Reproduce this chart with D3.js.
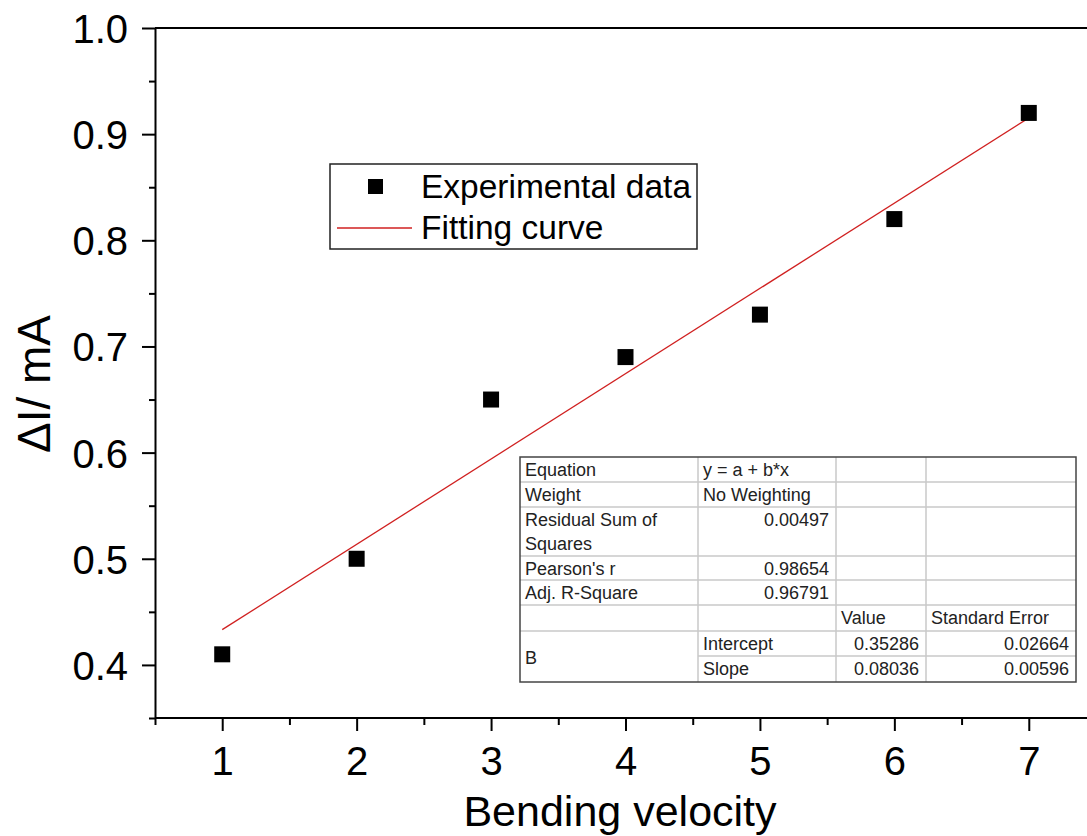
<!DOCTYPE html>
<html>
<head>
<meta charset="utf-8">
<script src="https://cdn.jsdelivr.net/npm/d3@7"></script>
<style>
html,body{margin:0;padding:0;background:#fff;}
svg{display:block;font-family:"Liberation Sans",Arial,sans-serif;}
</style>
</head>
<body>
<svg id="chart" width="1087" height="836"></svg>
<script>
// ---- data ----
const velocity = [1, 2, 3, 4, 5, 6, 7];
const deltaI = [0.41, 0.50, 0.65, 0.69, 0.73, 0.82, 0.92];
const fitIntercept = 0.35286;
const fitSlope = 0.08036;
const xTicks = [1, 2, 3, 4, 5, 6, 7];
const yTicks = [0.4, 0.5, 0.6, 0.7, 0.8, 0.9, 1.0];
const legendLabels = ["Experimental data", "Fitting curve"];
const tableRows = [
  ["Equation", "y = a + b*x", "", ""],
  ["Weight", "No Weighting", "", ""],
  ["Residual Sum of|Squares", "0.00497", "", ""],
  ["Pearson's r", "0.98654", "", ""],
  ["Adj. R-Square", "0.96791", "", ""],
  ["", "", "Value", "Standard Error"],
  ["B", "Intercept", "0.35286", "0.02664"],
  ["", "Slope", "0.08036", "0.00596"]
];

const svg = d3.select("#chart");
const L = 155, R = 1096, T = 28, B = 718;
const x = d3.scaleLinear().domain([0.5, 7.5]).range([L, R]);
const y = d3.scaleLinear().domain([0.35, 1.0]).range([B, T]);

// frame top line
svg.append("line").attr("x1", L).attr("x2", 1090).attr("y1", T).attr("y2", T)
  .attr("stroke", "#000").attr("stroke-width", 2);

// x axis
const xMinor = d3.range(0.5, 7.51, 0.5).filter(v => Math.abs(v - Math.round(v)) > 0.01);
svg.append("g").attr("transform", `translate(0,${B})`)
  .call(d3.axisBottom(x).tickValues(xMinor).tickSize(7).tickFormat(""))
  .call(g => g.select(".domain").remove())
  .call(g => g.selectAll("line").attr("stroke-width", 2));
const gx = svg.append("g").attr("transform", `translate(0,${B})`)
  .call(d3.axisBottom(x).tickValues(xTicks).tickSize(13).tickSizeOuter(0).tickPadding(16).tickFormat(d3.format("d")));
gx.select(".domain").attr("stroke-width", 2).attr("d", `M${L},0H1090`);
gx.selectAll("line").attr("stroke-width", 2);
gx.selectAll("text").attr("font-size", 40).attr("fill", "#000").attr("font-family", "Liberation Sans, Arial, sans-serif");

// y axis
const yMinor = d3.range(0.35, 1.0, 0.1).map(v => +v.toFixed(2));
svg.append("g").attr("transform", `translate(${L},0)`)
  .call(d3.axisLeft(y).tickValues(yMinor).tickSize(6).tickFormat(""))
  .call(g => g.select(".domain").remove())
  .call(g => g.selectAll("line").attr("stroke-width", 2));
const gy = svg.append("g").attr("transform", `translate(${L},0)`)
  .call(d3.axisLeft(y).tickValues(yTicks).tickSize(13).tickSizeOuter(0).tickPadding(14).tickFormat(d3.format(".1f")));
gy.select(".domain").attr("stroke-width", 2);
gy.selectAll("line").attr("stroke-width", 2);
gy.selectAll("text").attr("font-size", 40).attr("fill", "#000").attr("dy", "0.36em").attr("font-family", "Liberation Sans, Arial, sans-serif");

// axis titles
svg.append("text").attr("x", 620).attr("y", 826).attr("text-anchor", "middle")
  .attr("font-size", 43).attr("fill", "#000").text("Bending velocity");
svg.append("text").attr("transform", "translate(50,384) rotate(-90)").attr("text-anchor", "middle")
  .attr("font-size", 46).attr("fill", "#000").text("ΔI/ mA");

// fit line
const x0 = d3.min(velocity), x1 = d3.max(velocity);
svg.append("line")
  .attr("x1", x(x0)).attr("y1", y(fitIntercept + fitSlope * x0))
  .attr("x2", x(x1)).attr("y2", y(fitIntercept + fitSlope * x1))
  .attr("stroke", "#d02020").attr("stroke-width", 1.3);

// points
const sq = 16;
svg.append("g").selectAll("rect").data(velocity).join("rect")
  .attr("x", (d) => x(d) - sq / 2)
  .attr("y", (d, i) => y(deltaI[i]) - sq / 2)
  .attr("width", sq).attr("height", sq).attr("fill", "#000");

// legend
const lg = svg.append("g");
lg.append("rect").attr("x", 330).attr("y", 164).attr("width", 367).attr("height", 85)
  .attr("fill", "#fff").attr("stroke", "#222").attr("stroke-width", 1.5);
lg.append("rect").attr("x", 368).attr("y", 179).attr("width", 15).attr("height", 15).attr("fill", "#000");
lg.append("line").attr("x1", 337).attr("x2", 412).attr("y1", 228).attr("y2", 228)
  .attr("stroke", "#d02020").attr("stroke-width", 1.3);
lg.append("text").attr("x", 421).attr("y", 198).attr("font-size", 33.5).attr("fill", "#000").text(legendLabels[0]);
lg.append("text").attr("x", 421).attr("y", 239).attr("font-size", 33.5).attr("fill", "#000").text(legendLabels[1]);

// stats table
const cols = [520, 698, 836, 926, 1076];
const rowsY = [457, 482, 507, 556, 580, 605, 631, 656, 682];
const tg = svg.append("g");
tg.append("rect").attr("x", cols[0]).attr("y", rowsY[0]).attr("width", cols[4] - cols[0])
  .attr("height", rowsY[8] - rowsY[0]).attr("fill", "#fff");
rowsY.slice(1, 8).forEach((ry, i) => {
  const startX = (i === 6) ? cols[1] : cols[0];
  tg.append("line").attr("x1", startX).attr("x2", cols[4]).attr("y1", ry).attr("y2", ry)
    .attr("stroke", "#c8c8c8").attr("stroke-width", 1.5);
});
cols.slice(1, 4).forEach(cx => {
  tg.append("line").attr("x1", cx).attr("x2", cx).attr("y1", rowsY[0]).attr("y2", rowsY[8])
    .attr("stroke", "#c8c8c8").attr("stroke-width", 1.5);
});
tg.append("rect").attr("x", cols[0]).attr("y", rowsY[0]).attr("width", cols[4] - cols[0])
  .attr("height", rowsY[8] - rowsY[0]).attr("fill", "none").attr("stroke", "#444").attr("stroke-width", 1.5);

const fs = 18;
tableRows.forEach((row, ri) => {
  row.forEach((cell, ci) => {
    if (!cell) return;
    const numeric = /^[0-9.]+$/.test(cell);
    let ty = rowsY[ri] + 19;
    if (ri === 6 && ci === 0) ty = (rowsY[6] + rowsY[8]) / 2 + 7;
    const parts = cell.split("|");
    parts.forEach((p, pi) => {
      tg.append("text")
        .attr("x", numeric ? cols[ci + 1] - 7 : cols[ci] + 5)
        .attr("y", ty + pi * 24)
        .attr("text-anchor", numeric ? "end" : "start")
        .attr("font-size", fs).attr("fill", "#222").text(p);
    });
  });
});
</script>
</body>
</html>
